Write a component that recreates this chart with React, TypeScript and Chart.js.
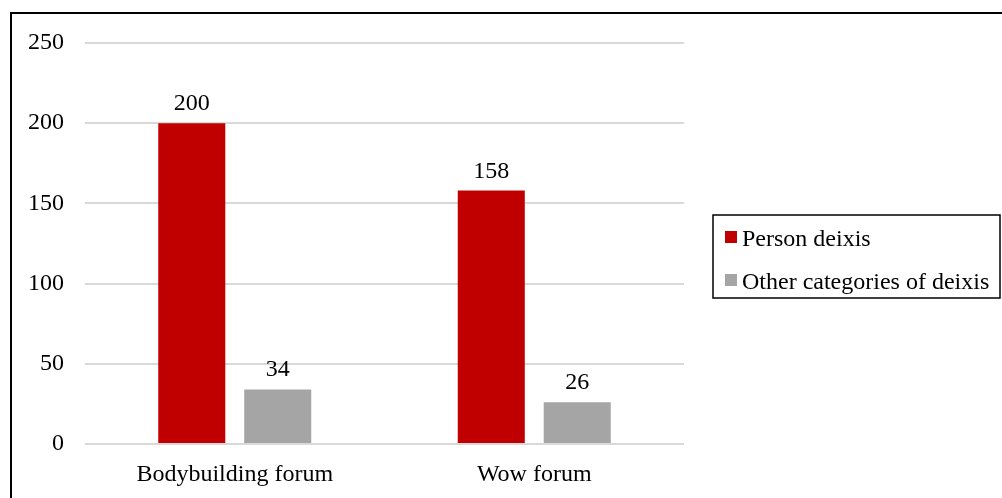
import React, { useEffect, useRef } from "react";
import { Chart, registerables } from "chart.js";

Chart.register(...registerables);

const categories = ["Bodybuilding forum", "Wow forum"];
const personDeixis = [200, 158];
const otherDeixis = [34, 26];
const seriesNames = ["Person deixis", "Other categories of deixis"];
const seriesColors = ["#c00000", "#a5a5a5"];

const FONT = "'Liberation Serif', 'Times New Roman', serif";
const FONT_SIZE = 24;

// Frame around the whole figure
const framePlugin = {
  id: "frame",
  afterDraw(chart: any) {
    const ctx = chart.ctx;
    ctx.save();
    ctx.strokeStyle = "#000";
    ctx.lineWidth = 2;
    ctx.strokeRect(11, 13, 1100, 600);
    ctx.restore();
  },
};

// Value labels above each bar
const valueLabelPlugin = {
  id: "valueLabels",
  afterDatasetsDraw(chart: any) {
    const ctx = chart.ctx;
    ctx.save();
    ctx.font = `${FONT_SIZE}px ${FONT}`;
    ctx.fillStyle = "#000";
    ctx.textAlign = "center";
    ctx.textBaseline = "alphabetic";
    chart.data.datasets.forEach((ds: any, i: number) => {
      const meta = chart.getDatasetMeta(i);
      meta.data.forEach((bar: any, j: number) => {
        ctx.fillText(String(ds.data[j]), bar.x, bar.y - 13);
      });
    });
    ctx.restore();
  },
};

// Boxed legend on the right
const boxLegendPlugin = {
  id: "boxLegend",
  afterDraw(chart: any) {
    const ctx = chart.ctx;
    const x = 713;
    const y = 215;
    const w = 287;
    const h = 83;
    ctx.save();
    ctx.fillStyle = "#fff";
    ctx.fillRect(x, y, w, h);
    ctx.strokeStyle = "#000";
    ctx.lineWidth = 1.5;
    ctx.strokeRect(x, y, w, h);
    ctx.font = `${FONT_SIZE}px ${FONT}`;
    ctx.textAlign = "left";
    ctx.textBaseline = "alphabetic";
    chart.data.datasets.forEach((ds: any, i: number) => {
      const rowY = y + 16 + i * 43;
      ctx.fillStyle = ds.backgroundColor;
      ctx.fillRect(x + 12, rowY, 12, 12);
      ctx.fillStyle = "#000";
      ctx.fillText(ds.label, x + 29, rowY + 15);
    });
    ctx.restore();
  },
};

export default function App() {
  const canvasRef = useRef<HTMLCanvasElement | null>(null);

  useEffect(() => {
    document.body.style.margin = "0";
    const canvas = canvasRef.current;
    if (!canvas) return;
    const chart = new Chart(canvas, {
      type: "bar",
      data: {
        labels: categories,
        datasets: [
          {
            label: seriesNames[0],
            data: personDeixis,
            backgroundColor: seriesColors[0],
            categoryPercentage: 0.574,
            barPercentage: 0.78,
          },
          {
            label: seriesNames[1],
            data: otherDeixis,
            backgroundColor: seriesColors[1],
            categoryPercentage: 0.574,
            barPercentage: 0.78,
          },
        ],
      },
      options: {
        responsive: false,
        animation: false,
        devicePixelRatio: 1,
        layout: { padding: { left: 0, top: 43, right: 318, bottom: 0 } },
        plugins: {
          legend: { display: false },
          tooltip: { enabled: false },
        },
        scales: {
          x: {
            grid: { display: false, drawTicks: false },
            border: { display: false },
            ticks: {
              color: "#000",
              font: { family: FONT, size: FONT_SIZE },
              padding: 16,
            },
            afterFit(scale: any) {
              scale.height = 54;
            },
          },
          y: {
            min: 0,
            max: 250,
            ticks: {
              stepSize: 50,
              color: "#000",
              font: { family: FONT, size: FONT_SIZE },
              padding: 21,
            },
            grid: { color: "#d9d9d9", lineWidth: 2, drawTicks: false },
            border: { display: false },
            afterFit(scale: any) {
              scale.width = 85;
            },
          },
        },
      },
      plugins: [framePlugin, valueLabelPlugin, boxLegendPlugin],
    });
    return () => chart.destroy();
  }, []);

  return (
    <div style={{ position: "absolute", left: 0, top: 0, width: 1002, height: 498 }}>
      <canvas ref={canvasRef} width={1002} height={498} />
    </div>
  );
}
